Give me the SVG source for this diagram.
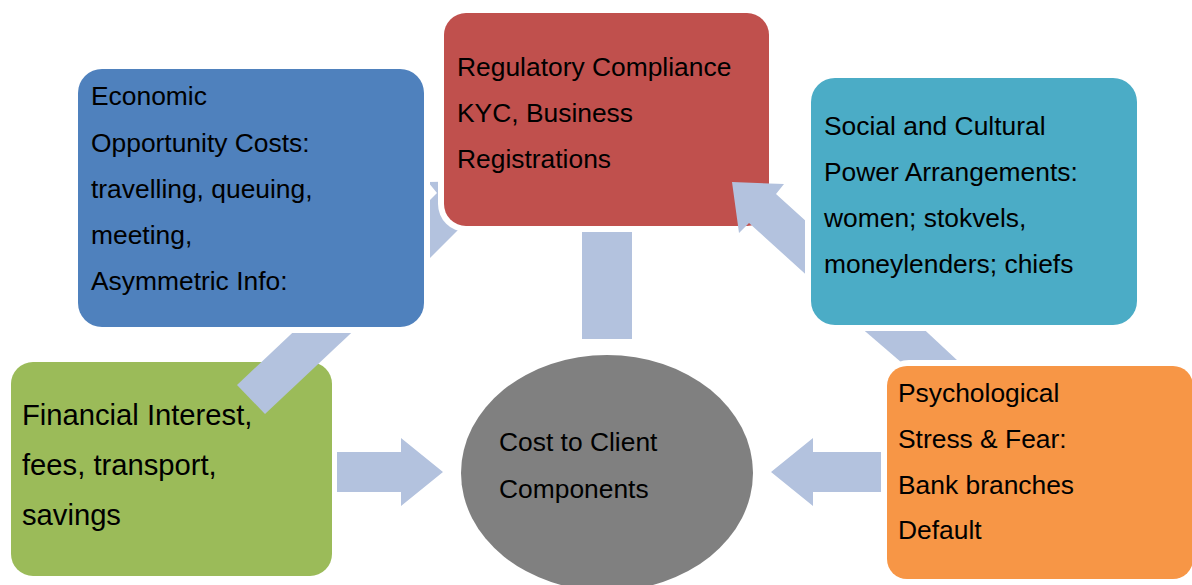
<svg xmlns="http://www.w3.org/2000/svg" width="1192" height="585" viewBox="0 0 1192 585">
  <style>
    .lbl { font-family: "Liberation Sans", Arial, sans-serif; font-size: 26.4px; fill: #000; }
    .big { font-size: 29.2px; }
    .conn { fill: #B3C2DE; }
  </style>
  <defs>
    <!-- keeps connectors out of the boxes plus a thin white margin -->
    <mask id="mOuter" maskUnits="userSpaceOnUse" x="0" y="0" width="1192" height="585">
      <rect x="0" y="0" width="1192" height="585" fill="#fff"/>
      <rect x="72" y="63" width="358" height="270" rx="28" fill="#000"/>
      <rect x="805" y="72" width="338" height="259" rx="28" fill="#000"/>
      <rect x="881" y="360" width="318" height="225" rx="28" fill="#000"/>
    </mask>
    <mask id="mRed" maskUnits="userSpaceOnUse" x="0" y="0" width="1192" height="585">
      <rect x="0" y="0" width="1192" height="585" fill="#fff"/>
      <rect x="438" y="7" width="337" height="225" rx="28" fill="#000"/>
    </mask>
  </defs>

  <rect width="1192" height="585" fill="#fff"/>

  <!-- central ellipse -->
  <g id="node-cost">
    <ellipse cx="607" cy="473" rx="146" ry="118" fill="#808080"/>
    <text class="lbl" x="499" y="451">Cost to Client</text>
    <text class="lbl" x="499" y="498">Components</text>
  </g>

  <g id="node-regulatory">
    <rect x="444" y="13" width="325" height="213" rx="22" fill="#C0504D"/>
    <text class="lbl" x="457" y="76">Regulatory Compliance</text>
    <text class="lbl" x="457" y="122">KYC, Business</text>
    <text class="lbl" x="457" y="168">Registrations</text>
  </g>

  <g id="node-financial">
    <rect x="11" y="362" width="321" height="214" rx="22" fill="#9BBB59"/>
    <text class="lbl big" x="22" y="425">Financial Interest,</text>
    <text class="lbl big" x="22" y="475">fees, transport,</text>
    <text class="lbl big" x="22" y="525">savings</text>
  </g>

  <g id="node-economic">
    <rect x="78" y="69" width="346" height="258" rx="24" fill="#4F81BD"/>
    <text class="lbl" x="91" y="105">Economic</text>
    <text class="lbl" x="91" y="152">Opportunity Costs:</text>
    <text class="lbl" x="91" y="198">travelling, queuing,</text>
    <text class="lbl" x="91" y="244">meeting,</text>
    <text class="lbl" x="91" y="290">Asymmetric Info:</text>
  </g>

  <g id="node-social">
    <rect x="811" y="78" width="326" height="247" rx="24" fill="#4BACC6"/>
    <text class="lbl" x="824" y="135">Social and Cultural</text>
    <text class="lbl" x="824" y="181">Power Arrangements:</text>
    <text class="lbl" x="824" y="227">women; stokvels,</text>
    <text class="lbl" x="824" y="273">moneylenders; chiefs</text>
  </g>

  <g id="node-psychological">
    <rect x="887" y="366" width="306" height="213" rx="20" fill="#F79646"/>
    <text class="lbl" x="898" y="402">Psychological</text>
    <text class="lbl" x="898" y="448">Stress &amp; Fear:</text>
    <text class="lbl" x="898" y="494">Bank branches</text>
    <text class="lbl" x="898" y="539">Default</text>
  </g>

  <!-- block arrows and shafts -->
  <g id="connectors" class="conn" mask="url(#mOuter)">
    <polygon mask="url(#mRed)" points="480,181 428,182 437,193 377,253 406,282 466,222 470,224"/>
    <rect x="582" y="232" width="50" height="107"/>
    <polygon points="732,182 784,184 776,194 850,261 823,290 749,223 739,233"/>
    <polygon points="306,320 365,320 265,414 237,385"/>
    <polygon points="852,320 914,320 973,375 916,375"/>
    <polygon points="337,452 401,452 401,438 443,472 401,506 401,492 337,492"/>
    <polygon points="882,452 813,452 813,438 771,472 813,506 813,492 882,492"/>
  </g>
</svg>
